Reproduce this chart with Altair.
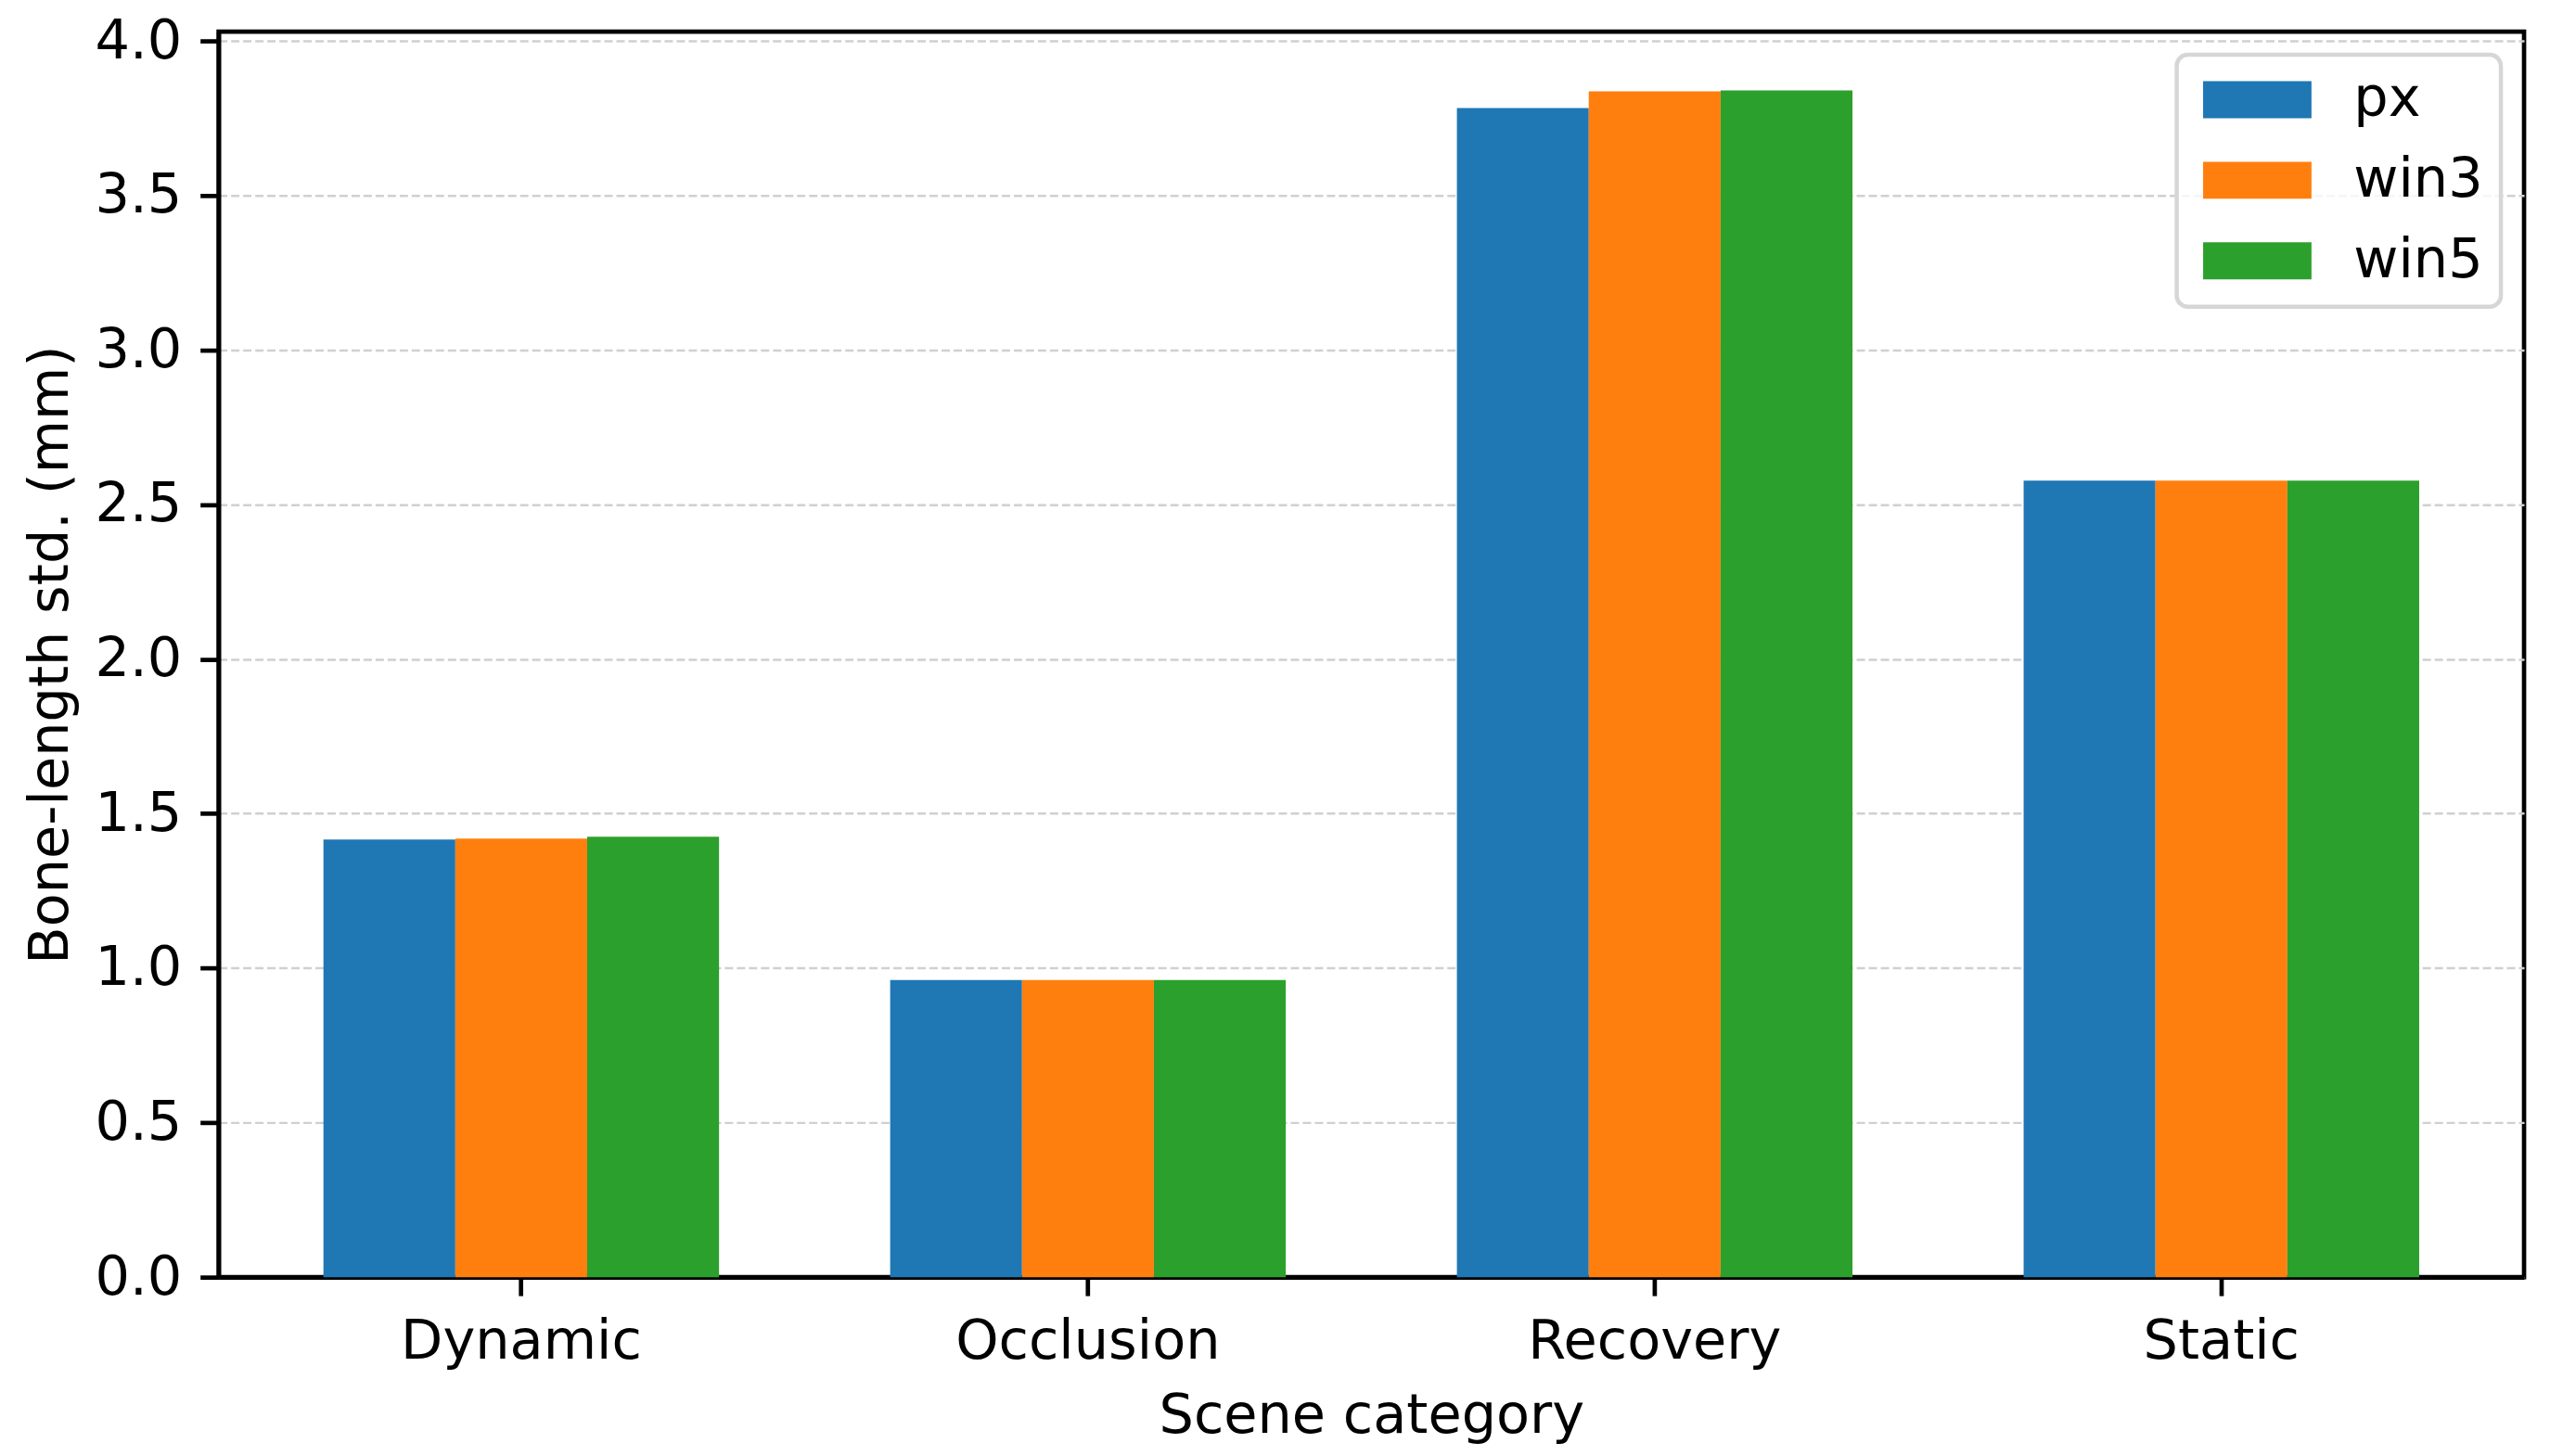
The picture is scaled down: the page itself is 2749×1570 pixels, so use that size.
import altair as alt
import pandas as pd

categories = ["Dynamic", "Occlusion", "Recovery", "Static"]
series = ["px", "win3", "win5"]
px_vals = [1.416, 0.961, 3.783, 2.577]
win3_vals = [1.419, 0.961, 3.837, 2.577]
win5_vals = [1.425, 0.961, 3.840, 2.577]
y_ticks = [0.0, 0.5, 1.0, 1.5, 2.0, 2.5, 3.0, 3.5, 4.0]
colors = ["#1f77b4", "#ff7f0e", "#2ca02c"]

rows = []
for name, vals in zip(series, [px_vals, win3_vals, win5_vals]):
    for c, v in zip(categories, vals):
        rows.append({"category": c, "method": name, "value": v})
df = pd.DataFrame(rows)

FONT = "DejaVu Sans"
FS = 59

chart = (
    alt.Chart(df)
    .mark_bar()
    .encode(
        x=alt.X(
            "category:N",
            sort=categories,
            title="Scene category",
            scale=alt.Scale(paddingInner=0.302, paddingOuter=0.185),
            axis=alt.Axis(labelAngle=0, grid=False, labelLimit=0, labelPadding=20, titlePadding=22),
        ),
        xOffset=alt.XOffset("method:N", sort=series, scale=alt.Scale(paddingInner=0, paddingOuter=0)),
        y=alt.Y(
            "value:Q",
            title="Bone-length std. (mm)",
            scale=alt.Scale(domain=[0, 4.03], nice=False, zero=True),
            axis=alt.Axis(values=y_ticks, format=".1f", grid=True, gridDash=[9, 4],
                          gridColor="#d0d0d0", gridWidth=2.5, labelPadding=20, titlePadding=18),
        ),
        color=alt.Color(
            "method:N",
            sort=series,
            scale=alt.Scale(domain=series, range=colors),
            legend=alt.Legend(
                title=None,
                orient="top-right",
                offset=25,
                symbolType="M-1,-1H4.85V1H-1Z",
                symbolSize=1600,
                symbolStrokeWidth=0,
                labelFontSize=FS,
                labelFont=FONT,
                labelColor="black",
                labelOffset=113,
                rowPadding=27,
                padding=19,
                fillColor="rgba(255,255,255,0.8)",
                strokeColor="#d6d6d6",
                cornerRadius=12,
            ),
        ),
    )
    .properties(
        width=2489,
        height=1345,
        autosize=alt.AutoSizeParams(type="none"),
        padding={"left": 228, "top": 25, "right": 20, "bottom": 180},
    )
    .configure_view(stroke="black", strokeWidth=4.7)
    .configure_axis(
        labelFont=FONT,
        labelFontSize=FS,
        labelColor="black",
        titleFont=FONT,
        titleFontSize=FS,
        titleFontWeight="normal",
        titleColor="black",
        domainColor="black",
        domainWidth=4.7,
        tickColor="black",
        tickWidth=4.7,
        tickSize=20,
    )
    .configure_legend(strokeWidth=4.5)
)

chart.save("out.html", embed_options={"renderer": "svg", "actions": False})
